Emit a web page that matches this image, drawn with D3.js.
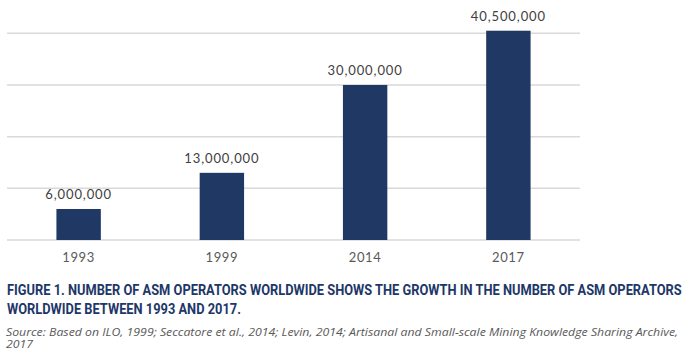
<!DOCTYPE html>
<html>
<head>
<meta charset="utf-8">
<script src="https://cdn.jsdelivr.net/npm/d3@7"></script>
<style>
  html, body { margin: 0; padding: 0; background: #ffffff; }
  svg { display: block; }
</style>
</head>
<body>
<svg id="chart" width="690" height="356"></svg>
<script>
const categories = ["1993", "1999", "2014", "2017"];
const values = [6000000, 13000000, 30000000, 40500000];
const gridTicks = [0, 10000000, 20000000, 30000000, 40000000];
const titleLines = [
  "FIGURE 1. NUMBER OF ASM OPERATORS WORLDWIDE SHOWS THE GROWTH IN THE NUMBER OF ASM OPERATORS",
  "WORLDWIDE BETWEEN 1993 AND 2017."
];
const sourceLines = [
  "Source: Based on ILO, 1999; Seccatore et al., 2014; Levin, 2014; Artisanal and Small-scale Mining Knowledge Sharing Archive,",
  "2017"
];

const svg = d3.select("#chart");
const left = 7, right = 580, baseY = 240, topY = 33.3;

const x = d3.scaleBand().domain(categories).range([left, right]).paddingInner(0.69).paddingOuter(0.345);
const y = d3.scaleLinear().domain([0, 40000000]).range([baseY, topY]);

// gridlines
svg.append("g").selectAll("line").data(gridTicks).join("line")
  .attr("x1", left).attr("x2", right)
  .attr("y1", d => y(d)).attr("y2", d => y(d))
  .attr("stroke", "#d9d9d9").attr("stroke-width", 1.5);

// bars
svg.append("g").selectAll("rect").data(values).join("rect")
  .attr("x", (d, i) => x(categories[i]))
  .attr("width", x.bandwidth())
  .attr("y", d => y(d))
  .attr("height", d => baseY - y(d))
  .attr("fill", "#1f3864");

// value labels
const fmt = d3.format(",");
svg.append("g").selectAll("text").data(values).join("text")
  .attr("x", (d, i) => x(categories[i]) + x.bandwidth() / 2)
  .attr("y", d => y(d) - 9.5)
  .attr("text-anchor", "middle")
  .attr("font-family", "Lato, 'Open Sans', sans-serif")
  .attr("font-size", 13)
  .attr("letter-spacing", 0.9)
  .attr("fill", "#404040")
  .text(d => fmt(d));

// x axis labels
const xAxis = d3.axisBottom(x).tickSize(0).tickPadding(0);
const gx = svg.append("g").attr("transform", `translate(0,${baseY})`).call(xAxis);
gx.select(".domain").remove();
gx.selectAll("text")
  .attr("y", 21.5).attr("dy", null)
  .attr("font-family", "Lato, 'Open Sans', sans-serif")
  .attr("font-size", 13)
  .attr("letter-spacing", 0.6)
  .attr("fill", "#595959");

// title and source, fitted horizontally to the reference widths
function fitLines(lines, opts) {
  const g = svg.append("g");
  const texts = g.selectAll("text").data(lines).join("text")
    .attr("x", 0)
    .attr("y", (d, i) => i * opts.lineH)
    .attr("font-family", opts.family)
    .attr("font-size", opts.size)
    .attr("font-weight", opts.weight)
    .attr("font-style", opts.style)
    .attr("fill", opts.color)
    .text(d => d);
  const w = texts.nodes()[0].getComputedTextLength();
  const k = opts.width / w;
  g.attr("transform", `translate(${opts.x},${opts.y}) scale(${k},1)`);
}

fitLines(titleLines, {
  x: 7, y: 295, lineH: 19.5, family: "Roboto, sans-serif", size: 14,
  weight: 700, style: "normal", color: "#1d3768", width: 675.5
});

fitLines(sourceLines, {
  x: 6, y: 335.5, lineH: 13, family: "'Open Sans', sans-serif", size: 11,
  weight: 400, style: "italic", color: "#595959", width: 673
});
</script>
</body>
</html>
